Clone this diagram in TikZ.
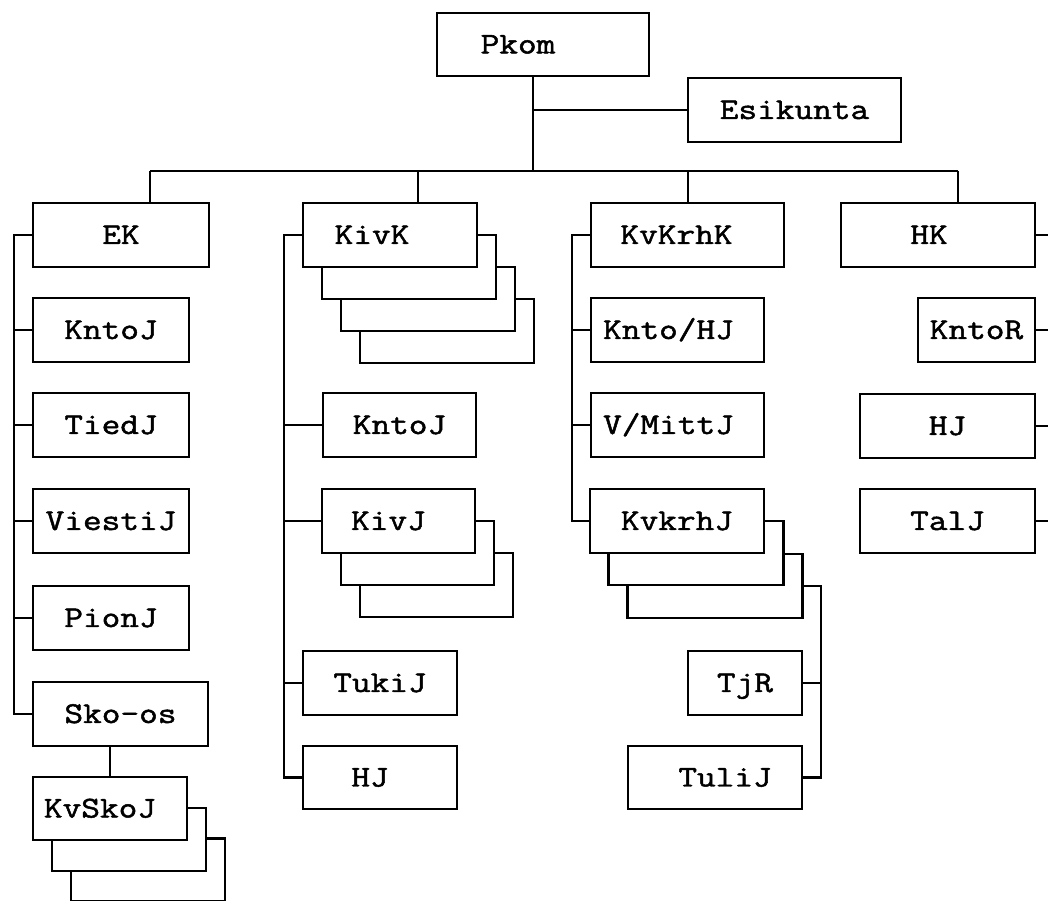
\documentclass[tikz,border=0pt]{standalone}
\usepackage{fontspec}
\newfontfamily\boxfont[FakeStretch=1.2,FakeBold=1.6]{Latin Modern Mono}
\begin{document}
\begin{tikzpicture}[x=0.02cm,y=-0.02cm,
  box/.style={draw=black, fill=white, line width=1.4pt, inner sep=0pt, outer sep=0pt,
    text height=0.36cm, text depth=0pt, font=\boxfont\fontsize{17.2}{20}\selectfont},
  sz/.style 2 args={minimum width=#1*0.02cm, minimum height=#2*0.02cm},
  conn/.style={draw=black, line width=1.4pt}]
\useasboundingbox (0,0) rectangle (1048,901);

% top
\node[box, sz={212}{63}] (pkom) at (543,44.5) {Pkom\hspace*{1.0cm}};
\node[box, sz={213}{64}] (esik) at (794.5,110) {Esikunta};
\coordinate (bm) at (533,171);
\coordinate (b1) at (150,171);
\coordinate (b2) at (418,171);
\coordinate (b3) at (688,171);
\coordinate (b4) at (958,171);

% column 1
\node[box, sz={176}{64}] (ek) at (121,235) {EK};
\node[box, sz={156}{64}] (kntoja) at (111,330) {KntoJ};
\node[box, sz={156}{64}] (tiedj) at (111,425) {TiedJ};
\node[box, sz={156}{64}] (viestij) at (111,521) {ViestiJ};
\node[box, sz={156}{64}] (pionj) at (111,618) {PionJ};
\node[box, sz={175}{64}] (skoos) at (120.5,714) {Sko-os};
\node[box, sz={154}{63}] (kvskojc) at (148,870) {};
\node[box, sz={154}{63}] (kvskojb) at (129,839.5) {};
\node[box, sz={154}{63}] (kvskoj) at (110,808.5) {KvSkoJ\hspace*{0.4cm}};

% column 2
\node[box, sz={174}{64}] (kivkd) at (447,331) {};
\node[box, sz={174}{64}] (kivkc) at (428,299) {};
\node[box, sz={174}{64}] (kivkb) at (409,267) {};
\node[box, sz={174}{64}] (kivk) at (390,235) {KivK\hspace*{0.72cm}};
\node[box, sz={153}{64}] (kntojb) at (399.5,425) {KntoJ};
\node[box, sz={153}{64}] (kivjc) at (436.5,585) {};
\node[box, sz={153}{64}] (kivjb) at (417.5,553) {};
\node[box, sz={153}{64}] (kivj) at (398.5,521) {KivJ\hspace*{0.4cm}};
\node[box, sz={154}{64}] (tukij) at (380,683) {TukiJ};
\node[box, sz={154}{63}] (hjb) at (380,777.5) {HJ\hspace*{0.4cm}};

% column 3
\node[box, sz={193}{64}] (kvkrhk) at (687.5,235) {KvKrhK\hspace*{0.44cm}};
\node[box, sz={173}{64}] (kntohj) at (677.5,330) {Knto/HJ\hspace*{0.36cm}};
\node[box, sz={173}{64}] (vmittj) at (677.5,425) {V/MittJ\hspace*{0.36cm}};
\node[box, sz={175}{64}] (kvkrhjc) at (715,586) {};
\node[box, sz={175}{64}] (kvkrhjb) at (696,553) {};
\node[box, sz={174}{64}] (kvkrhj) at (677,521) {KvkrhJ};
\node[box, sz={114}{64}] (tjr) at (745,683) {TjR};
\node[box, sz={174}{63}] (tulij) at (715,777.5) {\hspace*{0.4cm}TuliJ};

% column 4
\node[box, sz={194}{64}] (hk) at (938,235) {HK\hspace*{0.36cm}};
\node[box, sz={117}{64}] (kntor) at (976.5,330) {KntoR};
\node[box, sz={175}{64}] (hjd) at (947.5,426) {HJ};
\node[box, sz={175}{64}] (talj) at (947.5,521) {TalJ};

% connectors: top
\draw[conn] (pkom.south -| bm) -- (bm);
\draw[conn] (esik.west) -- (esik.west -| bm);
\draw[conn] (b1) -- (b4);
\draw[conn] (b1) -- (b1 |- ek.north);
\draw[conn] (b2) -- (b2 |- kivk.north);
\draw[conn] (b3) -- (b3 |- kvkrhk.north);
\draw[conn] (b4) -- (b4 |- hk.north);

% column 1 spine
\coordinate (s1) at (14,0);
\draw[conn] (ek.west) -- (ek.west -| s1) -- (skoos.west -| s1) -- (skoos.west);
\foreach \n in {kntoja,tiedj,viestij,pionj} \draw[conn] (\n.west) -- (\n.west -| s1);
\draw[conn] (skoos.south -| kvskoj.north) -- (kvskoj.north);

% column 2 spine
\coordinate (s2) at (284,0);
\draw[conn] (kivk.west) -- (kivk.west -| s2) -- (hjb.west -| s2) -- (hjb.west);
\foreach \n in {kntojb,kivj,tukij} \draw[conn] (\n.west) -- (\n.west -| s2);

% column 3 spines
\coordinate (s3) at (572,0);
\draw[conn] (kvkrhk.west) -- (kvkrhk.west -| s3) -- (kvkrhj.west -| s3) -- (kvkrhj.west);
\foreach \n in {kntohj,vmittj} \draw[conn] (\n.west) -- (\n.west -| s3);
\coordinate (r3) at (821,0);
\draw[conn] (kvkrhjc.east) -- (kvkrhjc.east -| r3) -- (tulij.east -| r3) -- (tulij.east);
\draw[conn] (tjr.east) -- (tjr.east -| r3);

% column 4 stubs
\coordinate (edge) at (1048,0);
\foreach \n in {hk,kntor,hjd,talj} \draw[conn] (\n.east) -- (\n.east -| edge);
\end{tikzpicture}
\end{document}
